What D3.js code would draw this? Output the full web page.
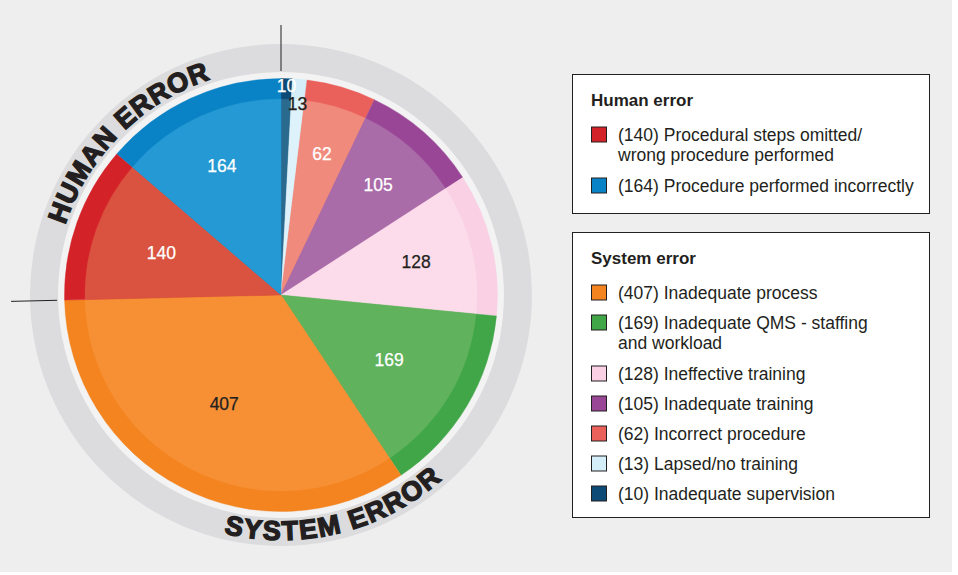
<!DOCTYPE html>
<html>
<head>
<meta charset="utf-8">
<script src="https://cdn.jsdelivr.net/npm/d3@7"></script>
<style>
  body { margin: 0; background: #fff; }
  text { font-family: "Liberation Sans", Arial, Helvetica, sans-serif; fill: #231f20; }
</style>
</head>
<body>
<svg id="svg" width="958" height="575"></svg>
<script>
// slices, clockwise from 12 o'clock
const values = [10, 13, 62, 105, 128, 169, 407, 140, 164];
const names = [
  "Inadequate supervision",
  "Lapsed/no training",
  "Incorrect procedure",
  "Inadequate training",
  "Ineffective training",
  "Inadequate QMS - staffing\nand workload",
  "Inadequate process",
  "Procedural steps omitted/\nwrong procedure performed",
  "Procedure performed incorrectly"
];
const groups = ["system", "system", "system", "system", "system", "system", "system", "human", "human"];
const groupTitles = ["Human error", "System error"];
const ringLabels = ["HUMAN ERROR", "SYSTEM ERROR"];

// colours: outer rim / lighter inner part / value label
const rimColors = ["#0d4b76", "#d4eef9", "#ea605b", "#9a4697", "#f9d0e4", "#41a648", "#f3841f", "#d42229", "#0a82c6"];
const innerColors = ["#2a6a8f", "#def2fb", "#f08a7c", "#a96ca9", "#fcdcea", "#60b25c", "#f79035", "#da5340", "#2499d3"];
const labelColors = ["#fff", "#231f20", "#fff", "#fff", "#231f20", "#fff", "#231f20", "#fff", "#fff"];
const labelR = [209, 192, 147, 147, 139, 126, 123, 127, 142];

const svg = d3.select("#svg");
const cx = 281, cy = 295;
const R = 216.5, rInner = 196;
const deg = Math.PI / 180;

svg.append("rect").attr("width", 952).attr("height", 572).attr("fill", "#eeeeee");

const g = svg.append("g").attr("transform", "translate(" + cx + "," + cy + ")");

// grey ring and light gap
g.append("circle").attr("r", 223).attr("fill", "#f3f3f3");
g.append("path")
  .attr("d", d3.arc().innerRadius(223).outerRadius(251).startAngle(0).endAngle(2 * Math.PI)())
  .attr("fill", "#dcdcde");

const pie = d3.pie().sort(null).value(d => d)(values);
const outerArc = d3.arc().innerRadius(0).outerRadius(R);
const innerArc = d3.arc().innerRadius(0).outerRadius(rInner);

g.selectAll("path.rim").data(pie).enter().append("path")
  .attr("class", "rim")
  .attr("d", outerArc)
  .attr("fill", (d, i) => rimColors[i])
  .attr("stroke", (d, i) => rimColors[i])
  .attr("stroke-width", 0.4);

g.selectAll("path.inner").data(pie).enter().append("path")
  .attr("class", "inner")
  .attr("d", innerArc)
  .attr("fill", (d, i) => innerColors[i])
  .attr("stroke", (d, i) => innerColors[i])
  .attr("stroke-width", 0.4);

g.selectAll("text.val").data(pie).enter().append("text")
  .attr("class", "val")
  .attr("x", (d, i) => labelR[i] * Math.sin((d.startAngle + d.endAngle) / 2))
  .attr("y", (d, i) => -labelR[i] * Math.cos((d.startAngle + d.endAngle) / 2))
  .attr("dy", "0.36em")
  .attr("text-anchor", "middle")
  .attr("font-size", 17.5)
  .style("fill", (d, i) => labelColors[i])
  .style("stroke", (d, i) => labelColors[i]).style("stroke-width", 0.25)
  .text(d => d.data);

// divider lines between human and system error
const splits = [pie[0].startAngle, pie[7].startAngle];
splits.forEach(a => {
  g.append("line")
    .attr("x1", 224 * Math.sin(a)).attr("y1", -224 * Math.cos(a))
    .attr("x2", 270 * Math.sin(a)).attr("y2", -270 * Math.cos(a))
    .attr("stroke", "#231f20").attr("stroke-width", 1);
});

// curved ring captions
function arcD(r, a0, a1) {
  const p = a => [r * Math.sin(a * deg), -r * Math.cos(a * deg)];
  const s = p(a0), e = p(a1);
  const large = Math.abs(a1 - a0) > 180 ? 1 : 0;
  const sweep = a1 > a0 ? 1 : 0;
  return "M" + s[0] + "," + s[1] + "A" + r + "," + r + " 0 " + large + " " + sweep + " " + e[0] + "," + e[1];
}
const defs = svg.append("defs");
defs.append("path").attr("id", "humanArc").attr("d", arcD(227, -135, 45));
defs.append("path").attr("id", "systemArc").attr("d", arcD(245, 256, 76));

[["#humanArc", ringLabels[0], 0.8], ["#systemArc", ringLabels[1], 1.6]].forEach(([id, txt, ls]) => {
  g.append("text")
    .attr("font-size", 27)
    .attr("font-weight", "bold")
    .attr("letter-spacing", ls)
    .style("stroke", "#231f20").style("stroke-width", 1.4)
    .append("textPath")
    .attr("href", id)
    .attr("startOffset", "50%")
    .attr("text-anchor", "middle")
    .text(txt);
});

// legends
const idx = values.map((v, i) => i);
const legendSets = [
  idx.filter(i => groups[i] === "human"),
  idx.filter(i => groups[i] === "system").reverse()
];
const boxes = [{ y: 74.5, h: 139 }, { y: 232.5, h: 285 }];

legendSets.forEach((set, k) => {
  const box = svg.append("g");
  box.append("rect")
    .attr("x", 572.5).attr("y", boxes[k].y)
    .attr("width", 357).attr("height", boxes[k].h)
    .attr("fill", "#fff").attr("stroke", "#231f20").attr("stroke-width", 1);
  box.append("text")
    .attr("x", 591).attr("y", boxes[k].y + 31)
    .attr("font-size", 17).attr("font-weight", "bold")
    .text(groupTitles[k]);
  let y = boxes[k].y + 66;
  set.forEach(i => {
    const lines = ("(" + values[i] + ") " + names[i]).split("\n");
    box.append("rect")
      .attr("x", 591.5).attr("y", y - 13.5)
      .attr("width", 15).attr("height", 15)
      .attr("fill", rimColors[i]).attr("stroke", "#231f20").attr("stroke-width", 1);
    const t = box.append("text").attr("x", 618).attr("y", y).attr("font-size", 17.5);
    lines.forEach((ln, j) => {
      t.append("tspan").attr("x", 618).attr("y", y + j * 20).text(ln);
    });
    y += 30 + (lines.length - 1) * 21;
  });
});
</script>
</body>
</html>
